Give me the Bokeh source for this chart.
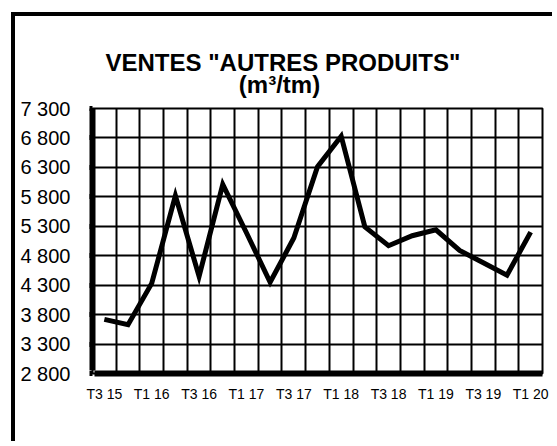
from bokeh.plotting import figure
from bokeh.models import Range1d, FixedTicker, Title
from bokeh.embed import file_html
from bokeh.resources import INLINE

# ---- data ----
categories = ["T3 15", "T4 15", "T1 16", "T2 16", "T3 16", "T4 16", "T1 17", "T2 17",
              "T3 17", "T4 17", "T1 18", "T2 18", "T3 18", "T4 18", "T1 19", "T2 19",
              "T3 19", "T4 19", "T1 20"]
ventes = [3720, 3630, 4330, 5820, 4450, 6010, 5190, 4350, 5100, 6310,
          6830, 5290, 4970, 5140, 5240, 4890, 4680, 4470, 5200]
y_ticks = [2800, 3300, 3800, 4300, 4800, 5300, 5800, 6300, 6800, 7300]
title_line1 = 'VENTES "AUTRES PRODUITS"'
title_line2 = "(m³/tm)"

FONT = "Liberation Sans"
NBSP = "\u00a0"
n = len(categories)
xs = [i + 0.5 for i in range(n)]

# the 4px CSS border is counted in the drawn canvas size
W, H = 537, 425
ML, MR, MT, MB = 77, 14, 92, 72

p = figure(width=W, height=H, output_backend="svg", toolbar_location=None,
           x_range=Range1d(0, n), y_range=Range1d(y_ticks[0], y_ticks[-1]),
           min_border_left=ML, min_border_right=MR, min_border_top=MT,
           min_border_bottom=MB)
# outer chart frame (left and top edges)
p.styles = {"position": "relative", "left": "11px", "top": "12px",
            "border-top": "4px solid black", "border-left": "4px solid black",
            "box-sizing": "content-box"}

p.background_fill_color = "white"
p.border_fill_color = "white"
p.outline_line_color = "black"
p.outline_line_width = 2

# two-line title (second line indented to sit under the centre of the first)
p.add_layout(Title(text=title_line1 + "\n" + NBSP * 20 + title_line2,
                   align="left", offset=13, standoff=20,
                   text_font=FONT, text_font_size="24px", text_font_style="bold",
                   text_color="black", text_line_height=0.83), "above")

# grid
p.xgrid.ticker = FixedTicker(ticks=list(range(1, n + 1)))
p.ygrid.ticker = FixedTicker(ticks=y_ticks[1:])
for g in (p.xgrid, p.ygrid):
    g.grid_line_color = "black"
    g.grid_line_width = 2
    g.grid_line_alpha = 1.0

# y axis
ya = p.yaxis[0]
ya.ticker = FixedTicker(ticks=y_ticks)
ya.major_label_overrides = {v: f"{v:,}".replace(",", " ") for v in y_ticks}
ya.axis_line_width = 6
ya.axis_line_color = "black"
ya.major_tick_out = 3
ya.major_tick_in = 0
ya.major_tick_line_width = 5
ya.minor_tick_line_color = None
ya.major_label_standoff = 19
ya.major_label_text_font = FONT
ya.major_label_text_font_size = "20px"
ya.major_label_text_color = "black"
ya.bounds = (y_ticks[0] + 50, y_ticks[-1] + 50)

# x axis
xa = p.xaxis[0]
label_pos = [i + 0.5 for i in range(0, n, 2)]
xa.ticker = FixedTicker(ticks=label_pos)
xa.major_label_overrides = {i + 0.5: categories[i] for i in range(0, n, 2)}
xa.axis_line_width = 6
xa.axis_line_color = "black"
xa.major_tick_out = 0
xa.major_tick_in = 0
xa.minor_tick_line_color = None
xa.major_label_standoff = 12
xa.major_label_text_font = FONT
xa.major_label_text_font_size = "14px"
xa.major_label_text_color = "black"
xa.bounds = (0.08, n + 0.08)

p.line(xs, ventes, line_color="black", line_width=5, line_join="miter")

open("out.html", "w").write(file_html(p, INLINE))
